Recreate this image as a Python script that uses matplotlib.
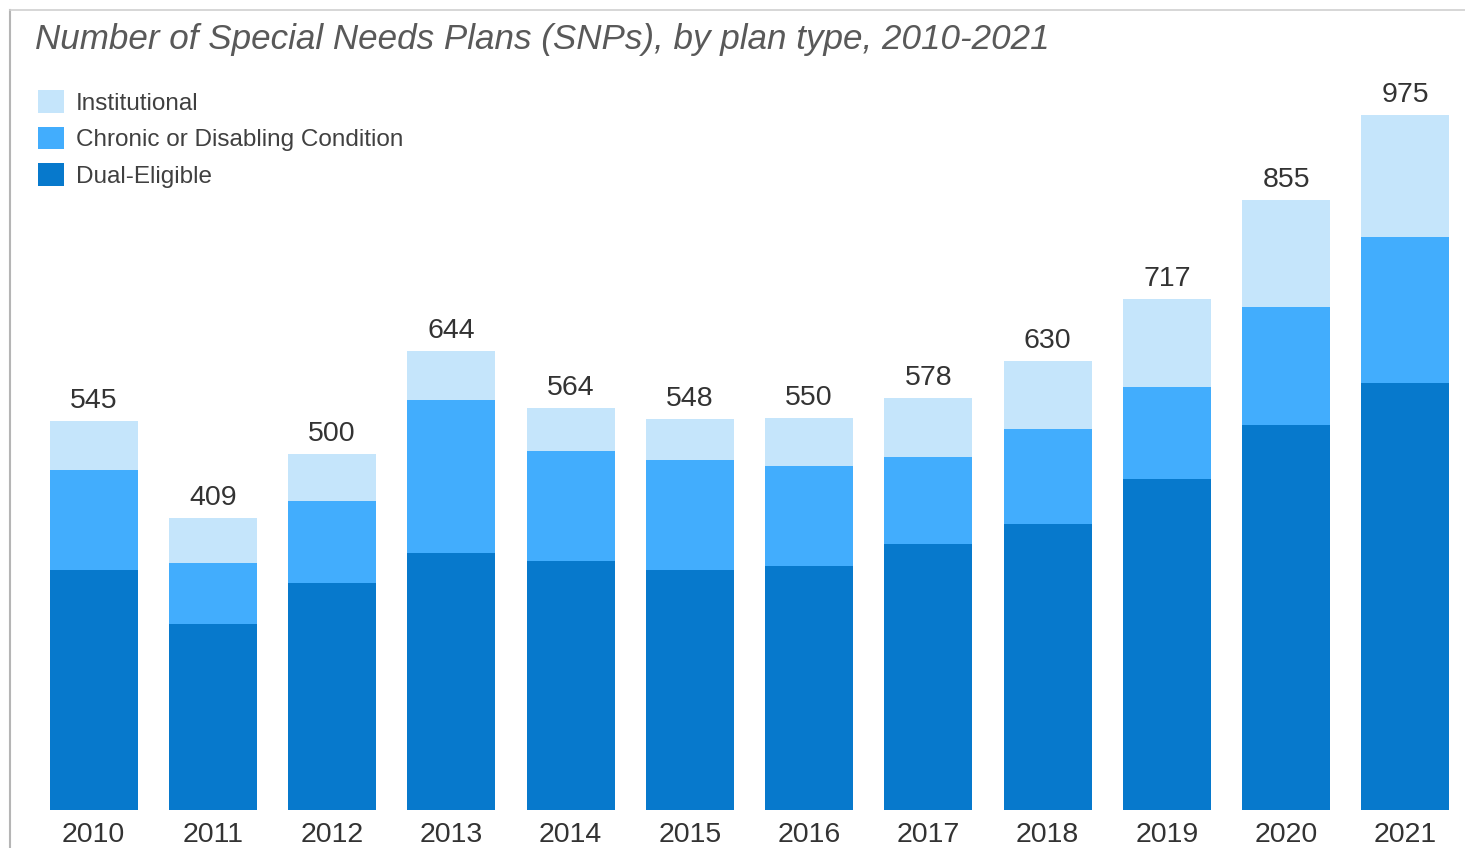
import numpy as np
import matplotlib.pyplot as plt
from matplotlib.lines import Line2D

# SNP counts by plan type
years = ["2010", "2011", "2012", "2013", "2014", "2015", "2016", "2017", "2018", "2019", "2020", "2021"]
dual = [337, 261, 318, 360, 349, 337, 342, 373, 401, 464, 540, 599]
chronic = [140, 85, 115, 215, 154, 154, 140, 122, 133, 129, 165, 205]
institutional = [68, 63, 67, 69, 61, 57, 68, 83, 96, 124, 150, 171]

plt.rcParams['font.family'] = ['Liberation Sans', 'DejaVu Sans']

W, H = 1465, 848
fig = plt.figure(figsize=(W / 100, H / 100), dpi=100)
ax = fig.add_axes([34 / W, 38 / H, (W - 34) / W, 800 / H])

x = np.arange(len(years))
width = 0.74
dual_arr = np.array(dual)
chronic_arr = np.array(chronic)
inst_arr = np.array(institutional)

b1 = ax.bar(x, dual_arr, width, color='#0779CC', label='Dual-Eligible')
b2 = ax.bar(x, chronic_arr, width, bottom=dual_arr, color='#42ADFD',
            label='Chronic or Disabling Condition')
b3 = ax.bar(x, inst_arr, width, bottom=dual_arr + chronic_arr, color='#C5E5FB',
            label='Institutional')

totals = dual_arr + chronic_arr + inst_arr
ax.bar_label(b3, labels=[str(t) for t in totals], padding=5, fontsize=20.5, color='#333333')

ax.set_xlim(-0.5, len(years) - 0.5)
ax.set_ylim(0, 800 / 0.713)
ax.set_xticks(x)
ax.set_xticklabels(years, fontsize=20.5, color='#333333')
ax.tick_params(axis='x', length=0, pad=8.5)
ax.set_yticks([])
for s in ax.spines.values():
    s.set_visible(False)

ax.legend(handles=[b3, b2, b1], loc='upper left', bbox_to_anchor=(38 / W, 1 - 90 / H),
          bbox_transform=fig.transFigure, frameon=False, fontsize=17.5,
          handlelength=1.05, handleheight=1.05, handletextpad=0.5, labelspacing=0.5,
          labelcolor='#404040', borderaxespad=0, borderpad=0)

fig.text(35 / W, 1 - 39 / H, "Number of Special Needs Plans (SNPs), by plan type, 2010-2021",
         fontsize=25.2, style='italic', color='#595959', va='center', ha='left')

# screenshot frame edges
fig.add_artist(Line2D([10 / W, 10 / W], [0, 1 - 10 / H], transform=fig.transFigure,
                      color='#b5b5b5', lw=1.5))
fig.add_artist(Line2D([10 / W, 1], [1 - 10 / H, 1 - 10 / H], transform=fig.transFigure,
                      color='#d0d0d0', lw=1.2))

fig.savefig('out.png', dpi=100)
